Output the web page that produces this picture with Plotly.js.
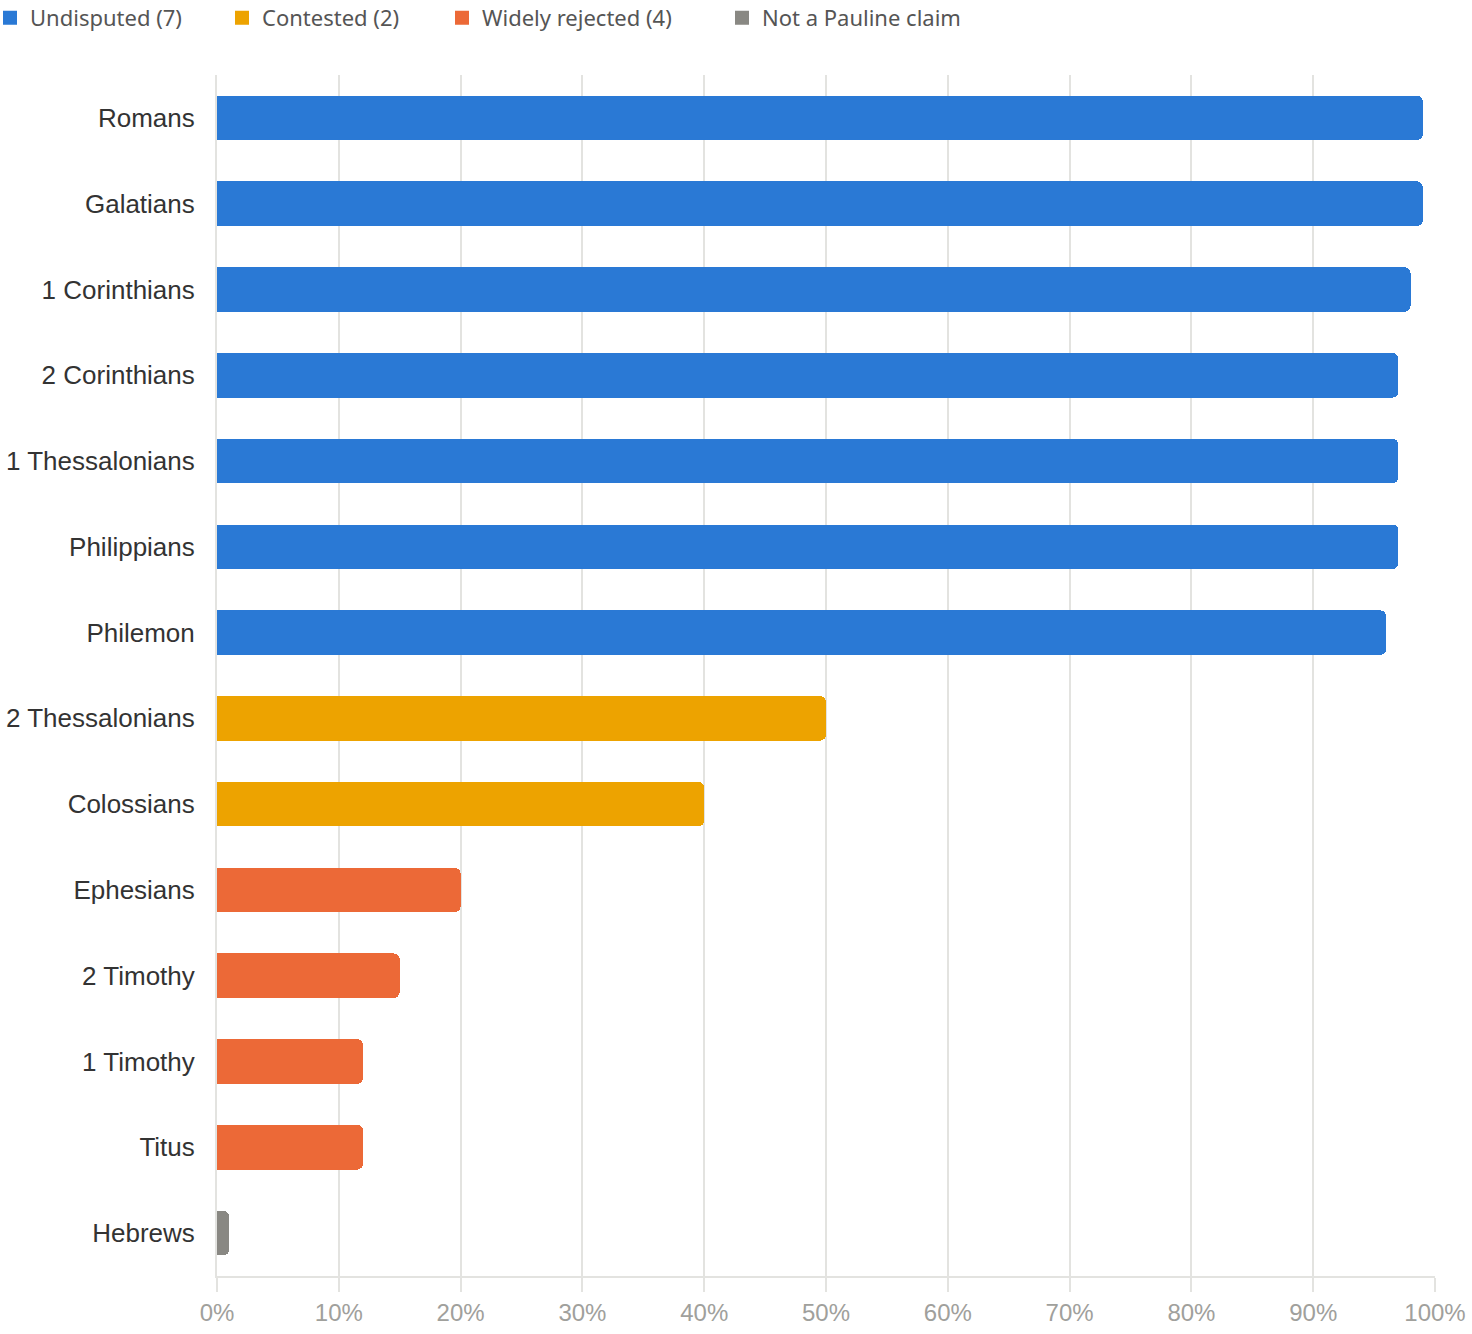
<!DOCTYPE html>
<html>
<head>
<meta charset="utf-8">
<script src="https://cdn.plot.ly/plotly-3.0.1.min.js"></script>
<style>
  html, body { margin: 0; padding: 0; background: #fff; }
  #chart { width: 1472px; height: 1334px; }
</style>
</head>
<body>
<div id="chart"></div>
<script>
// book order, top to bottom
var books = ['Romans', 'Galatians', '1 Corinthians', '2 Corinthians', '1 Thessalonians',
  'Philippians', 'Philemon', '2 Thessalonians', 'Colossians', 'Ephesians',
  '2 Timothy', '1 Timothy', 'Titus', 'Hebrews'];

var undisputedBooks = ['Romans', 'Galatians', '1 Corinthians', '2 Corinthians',
  '1 Thessalonians', 'Philippians', 'Philemon'];
var undisputedPct = [99, 99, 98, 97, 97, 97, 96];

var contestedBooks = ['2 Thessalonians', 'Colossians'];
var contestedPct = [50, 40];

var rejectedBooks = ['Ephesians', '2 Timothy', '1 Timothy', 'Titus'];
var rejectedPct = [20, 15, 12, 12];

var otherBooks = ['Hebrews'];
var otherPct = [1];

var groupNames = ['Undisputed (7)', 'Contested (2)', 'Widely rejected (4)', 'Not a Pauline claim'];
var groupColors = ['#2a79d5', '#eda300', '#ec6937', '#898883'];

var xTicks = [0, 10, 20, 30, 40, 50, 60, 70, 80, 90, 100];

// one legend box per group so each can sit where the original has it
var legendIds = ['legend', 'legend2', 'legend3', 'legend4'];
var legendLeft = [-10, 222, 442, 722];

var margin = { t: 75, b: 58, l: 217, r: 37 };
var plotW = 1472 - margin.l - margin.r;

function barTrace(i, y, x) {
  return {
    type: 'bar',
    orientation: 'h',
    name: groupNames[i],
    legendgroup: groupNames[i],
    showlegend: false,
    y: y,
    x: x,
    marker: { color: groupColors[i], cornerradius: 6 },
    hovertemplate: '%{y}: %{x}%<extra></extra>'
  };
}

// legend only: bigger square swatches than the bar default
function legendTrace(i) {
  return {
    type: 'scatter',
    mode: 'markers',
    name: groupNames[i],
    legendgroup: groupNames[i],
    legend: legendIds[i],
    x: [null],
    y: [null],
    marker: { symbol: 'square', size: 16, color: groupColors[i],
      line: { width: 5, color: groupColors[i] } },
    hoverinfo: 'skip'
  };
}

function legendBox(i) {
  return {
    orientation: 'h',
    xref: 'paper', yref: 'container',
    x: (legendLeft[i] - margin.l) / plotW, y: 1 - 18 / 1334,
    xanchor: 'left', yanchor: 'middle',
    font: { family: 'Noto Sans, Open Sans, sans-serif', size: 22, color: '#555' },
    itemsizing: 'constant'
  };
}

var data = [
  barTrace(0, undisputedBooks, undisputedPct),
  barTrace(1, contestedBooks, contestedPct),
  barTrace(2, rejectedBooks, rejectedPct),
  barTrace(3, otherBooks, otherPct),
  legendTrace(0), legendTrace(1), legendTrace(2), legendTrace(3)
];

var layout = {
  width: 1472,
  height: 1334,
  margin: { t: margin.t, b: margin.b, l: margin.l, r: margin.r, autoexpand: false },
  paper_bgcolor: '#fff',
  plot_bgcolor: '#fff',
  barmode: 'stack',
  bargap: 0.48,
  showlegend: true,
  legend: legendBox(0),
  legend2: legendBox(1),
  legend3: legendBox(2),
  legend4: legendBox(3),
  xaxis: {
    range: [0, 100],
    tickvals: xTicks,
    ticktext: xTicks.map(function(v) { return v + '%'; }),
    showgrid: true,
    gridcolor: '#e3e3e0',
    gridwidth: 2,
    zeroline: false,
    showline: true,
    linecolor: '#e3e3e0',
    linewidth: 2,
    ticks: 'outside',
    ticklen: 14,
    tickwidth: 2,
    tickcolor: '#e3e3e0',
    tickfont: { family: 'Liberation Sans, Arial, sans-serif', size: 24, color: '#a0a09c' },
    fixedrange: true
  },
  yaxis: {
    type: 'category',
    categoryorder: 'array',
    categoryarray: books.slice().reverse(),
    showgrid: false,
    showline: true,
    linecolor: '#e3e3e0',
    linewidth: 2,
    ticks: '',
    ticklabelstandoff: 15,
    tickfont: { family: 'Liberation Sans, Arial, sans-serif', size: 26, color: '#333' },
    fixedrange: true
  }
};

Plotly.newPlot('chart', data, layout, { displayModeBar: false, staticPlot: true });
</script>
</body>
</html>
